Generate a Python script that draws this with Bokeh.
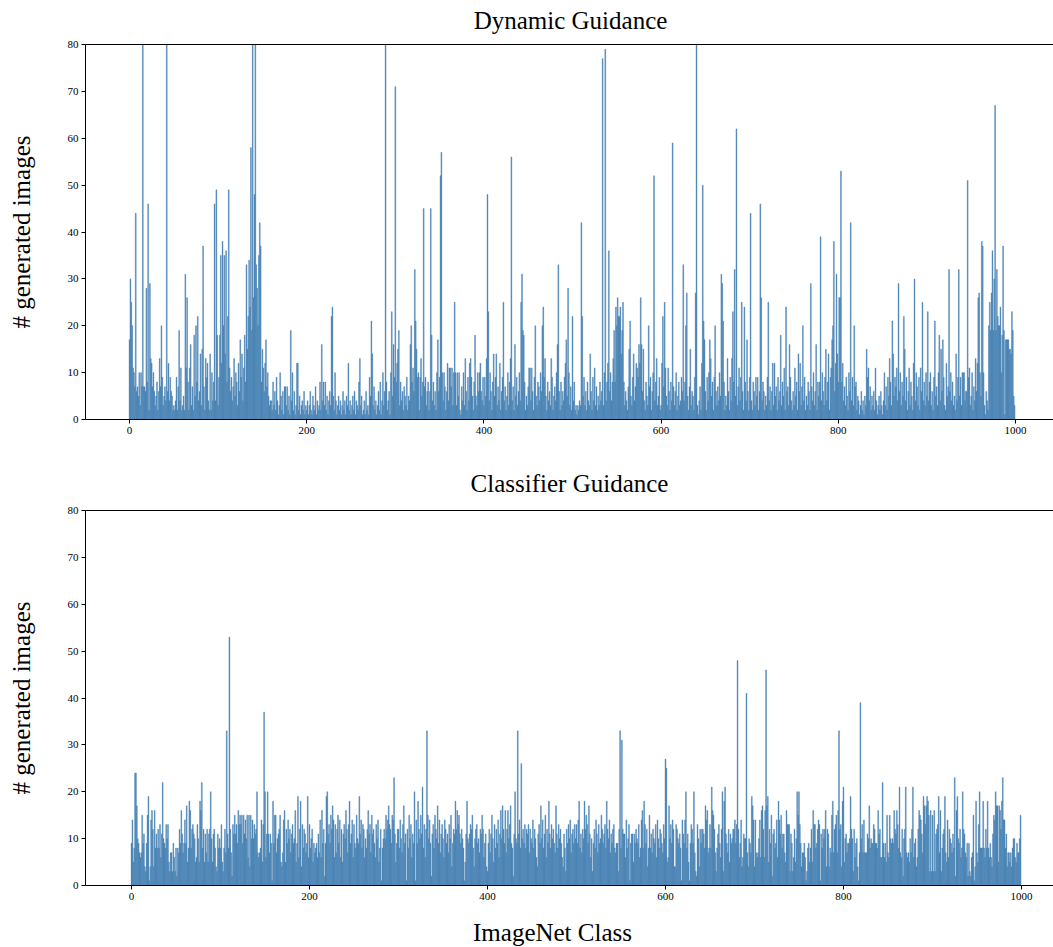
from bokeh.plotting import figure
from bokeh.models import Range1d, FixedTicker, LinearAxis
from bokeh.layouts import column
from bokeh.core.properties import value
from bokeh.embed import file_html
from bokeh.resources import INLINE

# ---------------- data ----------------
dyn_000 = [17,30,25,20,11,10,7,44,6,7, 5,10,3,10,7,90,7,7,6,28, 8,46,2,29,13,12,7,10,6,3,
           5,8,2,6,13,7,20,9,3,5, 7,4,95,6,12,4,9,6,5,2, 3,2,4,9,2,7,19,4,11,2,
           3,5,2,31,11,26,8,2,11,16, 3,7,2,18,5,20,8,22,4,6, 14,3,15,37,7,2,13,9,12,4,
           2,14,2,10,4,8,46,4,49,18]
dyn_100 = [3,9,18,35,12,38,20,35,14,36, 8,22,49,11,6,9,4,7,13,5, 10,8,3,12,6,17,9,14,4,11,
           18,8,33,15,22,34,24,58,19,90, 26,48,90,33,28,20,35,42,37,8, 15,11,6,12,17,7,10,5,3,4,
           4,2,8,3,6,2,9,4,1,3, 10,5,2,6,1,7,7,3,7,2, 5,1,19,4,10,2,6,1,3,12,
           12,2,5,1,3,4,2,6,1,3]
dyn_200 = [2,4,1,3,6,2,1,5,3,2, 7,1,4,2,3,8,2,16,4,8, 3,8,2,5,1,4,6,3,22,24,
           5,2,10,4,1,3,5,2,4,1, 3,6,2,4,1,5,3,12,2,4, 1,3,5,2,6,1,4,3,2,8,
           13,3,5,1,2,4,1,6,2,3, 1,9,5,21,14,3,7,2,4,1, 3,6,2,8,1,4,10,3,6,90,
           8,2,4,6,1,10,23,5,16,9]
dyn_300 = [71,8,12,15,19,3,8,4,6,2, 7,5,3,9,2,5,4,16,20,8, 11,6,32,21,15,9,10,2,9,13,
           5,8,45,7,9,3,6,8,2,6, 45,18,4,8,3,6,2,10,17,6, 9,52,57,10,4,10,7,2,6,12,
           4,11,11,7,11,3,10,25,10,3, 10,5,10,2,1,7,4,10,3,13, 6,2,9,4,12,13,9,5,2,8,
           18,5,3,10,6,10,12,6,4,9]
dyn_400 = [3,9,5,13,48,23,4,10,6,2, 8,14,5,9,14,3,7,4,12,2, 6,9,25,4,7,2,5,10,3,8,
           13,56,4,7,2,16,5,9,3,6, 10,4,25,31,19,18,8,2,5,3, 7,11,11,4,11,6,2,9,20,5,
           3,8,7,4,10,6,20,24,9,13, 5,2,8,4,6,3,13,9,2,5, 7,4,10,16,33,6,2,8,3,6,
           4,9,12,17,5,28,10,3,7,2]
dyn_500 = [22,4,8,2,3,1,3,2,4,3, 42,22,5,9,3,6,2,8,4,3, 14,6,2,9,4,11,3,7,2,5,
           3,8,4,6,77,3,10,79,4,8, 12,36,6,10,4,8,13,19,8,24, 20,26,22,22,24,14,19,25,8,3,
           6,4,2,7,15,21,5,3,9,14, 4,7,12,11,9,16,12,26,16,6, 15,4,2,8,5,3,20,7,9,2,
           6,10,52,4,8,13,3,5,9,2]
dyn_600 = [3,12,22,7,25,11,5,3,11,6, 2,8,4,59,7,3,6,10,2,5, 8,3,4,9,6,33,4,8,20,27,
           5,2,7,15,3,6,5,2,9,27, 90,3,1,4,7,2,12,50,21,17, 6,2,9,4,10,17,13,5,8,2,
           9,20,6,3,7,4,10,5,31,29, 21,8,2,5,3,13,6,2,9,4, 13,23,8,32,5,62,3,7,11,4,
           9,25,6,2,24,8,4,17,6,2]
dyn_700 = [9,44,4,2,8,6,3,9,5,9, 2,6,46,26,4,8,6,2,5,3, 9,25,4,7,2,6,12,3,12,5,
           7,2,9,4,6,18,3,8,5,11, 2,24,6,7,3,16,9,4,2,6, 3,11,5,8,2,14,6,12,3,7,
           20,4,9,2,5,3,8,6,2,29, 7,4,10,3,6,16,2,8,5,8, 39,4,10,6,3,9,15,4,8,14,
           2,9,11,17,20,38,6,12,31,14]
dyn_800 = [8,26,26,53,8,12,4,7,3,9, 5,2,10,6,42,4,9,3,20,7, 8,2,5,4,1,3,6,2,4,1,
           5,3,15,9,11,4,7,2,5,3, 6,2,11,4,1,3,5,2,6,3, 1,4,10,3,7,2,9,5,13,8,
           3,21,14,5,9,7,11,4,29,6, 10,3,8,5,22,15,4,9,2,6, 11,3,8,5,2,12,30,4,10,7,
           3,9,2,11,6,25,4,8,3,10]
dyn_900 = [5,23,4,8,10,3,6,2,9,21, 5,7,3,10,18,4,15,6,17,9, 3,2,12,5,7,32,6,10,4,8,
           3,5,2,14,4,9,32,5,9,3, 10,10,10,4,6,6,51,9,11,3, 5,10,2,7,4,13,6,12,26,27,
           10,5,38,37,10,3,1,6,4,2, 20,25,19,27,36,19,30,67,19,32, 22,20,20,24,10,18,37,19,1,17,
           17,17,17,15,15,14,23,19,5,3]

cls_000 = [9,14,5,8,24,24,17,10,9,7, 6,7,15,9,11,4,3,9,15,19, 1,4,14,16,12,4,16,8,11,8,
           12,8,13,6,11,22,10,9,8,13, 10,13,5,3,7,7,3,9,6,3, 8,2,8,7,12,9,16,11,7,9,
           14,9,17,5,8,18,16,8,12,13, 11,10,5,6,13,10,5,18,16,22, 8,12,5,11,7,12,5,11,12,20,
           10,5,11,12,8,4,3,11,8,10]
cls_100 = [8,13,5,3,8,12,7,33,11,8, 53,12,7,2,13,11,15,11,13,9, 16,13,15,13,15,9,15,11,14,10,
           15,6,15,4,15,10,14,10,13,11, 12,20,7,6,7,8,14,5,13,37, 20,6,11,20,11,7,11,9,1,18,
           9,15,15,7,10,11,12,15,5,4, 7,14,16,5,12,9,14,10,12,7, 11,13,9,10,16,5,9,19,6,12,
           18,4,13,8,12,11,7,9,19,6]
cls_200 = [13,8,10,12,5,9,7,8,9,6, 11,7,14,6,16,9,12,2,9,19, 20,11,13,9,15,12,17,14,6,13,
           7,12,15,9,14,6,12,5,11,13, 10,16,12,7,13,18,9,11,14,6, 13,9,8,15,10,9,19,11,14,8,
           13,12,6,10,8,12,16,11,13,7, 15,11,12,9,6,13,10,14,5,8, 12,1,8,10,12,10,15,12,14,17,
           13,12,9,15,14,23,11,5,9,12]
cls_300 = [12,8,14,10,7,13,17,9,11,1, 12,8,15,10,13,6,11,9,20,1, 14,9,18,12,10,15,11,21,8,13,
           6,12,33,15,10,14,9,2,11,13, 8,15,12,10,17,9,14,7,11,13, 10,6,14,12,9,11,7,13,10,15,
           4,9,12,11,18,12,16,13,15,11, 9,12,10,8,1,5,11,18,10,9, 11,13,12,15,8,4,10,12,13,9,
           10,7,12,11,15,12,6,9,11,4]
cls_400 = [3,9,12,7,11,15,10,5,13,8, 12,9,14,6,11,16,10,17,12,9, 16,7,12,16,10,13,17,9,8,2,
           11,20,10,9,33,11,14,8,26,10, 12,9,13,8,12,11,13,7,12,10, 9,14,8,12,10,6,4,11,13,9,
           17,10,14,8,11,15,6,12,9,18, 11,8,13,10,12,9,7,17,11,8, 13,10,12,9,6,4,11,8,3,12,
           9,13,10,14,7,11,12,9,13,10]
cls_500 = [13,9,14,18,8,11,7,12,10,18, 12,15,13,9,17,11,6,10,3,9, 12,8,14,11,7,13,9,10,15,12,
           9,11,13,8,18,12,10,14,7,11, 9,12,13,8,7,9,9,3,12,33, 8,31,12,11,11,6,14,8,10,13,
           1,9,11,11,5,11,9,12,10,9, 13,6,8,14,16,8,18,13,9,12, 4,8,15,8,11,7,12,10,9,13,
           6,14,10,8,12,11,9,7,13,10]
cls_600 = [27,25,5,6,17,10,13,9,14,12, 4,4,13,12,10,9,11,8,1,14, 11,9,14,20,8,11,5,1,9,13,
           12,9,20,7,3,2,13,10,4,12, 9,12,12,11,8,17,14,16,7,8, 13,8,21,16,15,12,7,3,8,11,
           13,9,6,12,20,3,18,21,11,9, 7,12,5,11,9,10,12,12,14,9, 13,48,12,6,9,14,4,6,11,10,
           10,41,7,4,10,9,7,19,17,14]
cls_700 = [4,14,7,6,7,10,14,6,16,17, 12,6,16,46,17,19,5,12,9,15, 2,11,12,8,9,14,6,18,14,11,
           15,8,11,11,7,5,16,13,13,13, 3,11,9,3,6,12,5,10,20,15, 20,13,9,4,7,7,9,6,1,3,
           8,9,5,8,12,5,16,13,13,8, 9,12,14,13,1,11,8,12,10,12, 16,4,12,11,4,8,7,15,18,7,
           12,13,15,7,16,33,12,13,4,18]
cls_800 = [21,5,10,11,7,9,9,10,19,12, 10,3,12,6,9,10,4,1,7,39, 10,13,7,14,7,7,7,11,10,17,
           8,10,9,9,13,12,9,9,8,16, 11,12,6,6,22,9,6,9,5,15, 7,6,15,10,9,10,9,16,12,11,
           16,13,8,21,7,6,12,2,10,12, 21,7,6,7,5,10,7,12,21,6, 9,10,4,6,12,16,15,14,11,7,
           19,17,13,17,19,18,15,3,16,3]
cls_900 = [15,3,16,3,11,12,13,19,7,16, 3,8,11,12,19,7,5,14,6,12, 10,9,7,11,8,23,2,16,19,10,
           9,12,6,8,20,12,11,7,6,9, 2,9,3,2,6,7,15,1,4,18, 7,5,13,20,8,8,8,18,8,6,
           12,8,18,8,6,9,6,4,11,15, 14,20,17,17,5,17,16,12,18,23, 14,14,8,11,4,7,7,5,7,4,
           8,10,10,6,5,9,7,7,10,15]

dynamic = (dyn_000 + dyn_100 + dyn_200 + dyn_300 + dyn_400 +
           dyn_500 + dyn_600 + dyn_700 + dyn_800 + dyn_900)
classifier = (cls_000 + cls_100 + cls_200 + cls_300 + cls_400 +
              cls_500 + cls_600 + cls_700 + cls_800 + cls_900)

titles = ["Dynamic Guidance", "Classifier Guidance"]
y_label = "# generated images"
x_label = "ImageNet Class"
x_ticks = [0, 200, 400, 600, 800, 1000]
y_ticks = [0, 10, 20, 30, 40, 50, 60, 70, 80]

SERIF = "Liberation Serif"
BAR = "#4682B4"
W = 1053
FRAME_LEFT = 85


def text_strip(text, height, cx, cy_from_top):
    """A thin figure holding one centred text (panel title / x label).
    Its frame is aligned with the panels' frames (page x 85..1053)."""
    s = figure(width=W, height=height, x_range=Range1d(FRAME_LEFT, W),
               y_range=Range1d(0, height),
               output_backend="svg", toolbar_location=None,
               x_axis_location=None, y_axis_location=None,
               min_border_left=FRAME_LEFT, min_border_right=0,
               min_border_top=0, min_border_bottom=0)
    s.outline_line_color = None
    s.xgrid.visible = False
    s.ygrid.visible = False
    s.text(x=[cx], y=[height - cy_from_top], text=[text], text_align="center",
           text_baseline="middle", text_font=value(SERIF), text_font_size=value("25px"),
           text_color="black")
    return s


def panel(values, xr, b_bottom):
    p = figure(width=W, height=8 + 375 + b_bottom, x_range=Range1d(*xr), y_range=Range1d(0, 80),
               output_backend="svg", toolbar_location=None,
               min_border_left=FRAME_LEFT, min_border_right=0,
               min_border_top=8, min_border_bottom=b_bottom)
    p.vbar(x=list(range(len(values))), top=values, bottom=0, width=1.0,
           fill_color=BAR, line_color=BAR, line_width=0.4)
    p.xgrid.visible = False
    p.ygrid.visible = False
    p.outline_line_color = None
    p.background_fill_color = "white"
    p.border_fill_color = "white"

    xa = p.xaxis[0]
    xa.ticker = FixedTicker(ticks=x_ticks)
    ya = p.yaxis[0]
    ya.ticker = FixedTicker(ticks=y_ticks)
    for ax in (xa, ya):
        ax.axis_line_color = "black"
        ax.axis_line_width = 1
        ax.major_tick_line_color = "black"
        ax.major_tick_out = 4
        ax.major_tick_in = 0
        ax.minor_tick_line_color = None
        ax.major_label_text_font = SERIF
        ax.major_label_text_font_size = "11px"
        ax.major_label_text_color = "black"
        ax.major_label_standoff = 3
    ya.axis_label = y_label
    ya.axis_label_text_font = SERIF
    ya.axis_label_text_font_size = "25px"
    ya.axis_label_text_font_style = "normal"
    ya.axis_label_text_color = "black"
    ya.axis_label_standoff = 30

    # top spine only (no right spine in the reference)
    top_axis = LinearAxis(ticker=FixedTicker(ticks=[]), axis_line_color="black",
                          major_tick_line_color=None, minor_tick_line_color=None,
                          major_tick_out=0, major_tick_in=0, major_label_standoff=0,
                          major_label_text_font_size="0px")
    p.add_layout(top_axis, "above")
    return p


t1 = text_strip(titles[0], 36, 570, 20)            # page y 0..36
p1 = panel(dynamic, (-49.7, 1042.9), 37)            # page y 36..456, frame 44..419
t2 = text_strip(titles[1], 46, 569, 27)            # page y 456..502
p2 = panel(classifier, (-51.7, 1036.0), 25)         # page y 502..910, frame 510..885
t3 = text_strip(x_label, 37, 552, 22)               # page y 910..947

layout = column(t1, p1, t2, p2, t3, spacing=0)
open("out.html", "w").write(file_html(layout, INLINE))
